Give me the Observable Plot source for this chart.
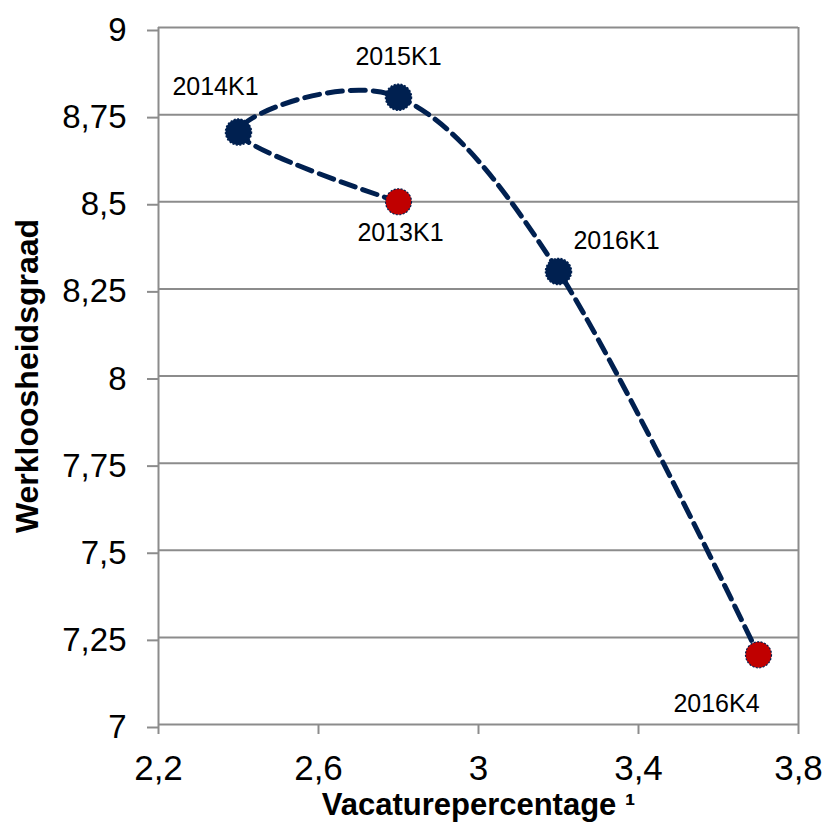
<!DOCTYPE html>
<html>
<head>
<meta charset="utf-8">
<script src="https://cdn.jsdelivr.net/npm/d3@7"></script>
<script src="https://cdn.jsdelivr.net/npm/@observablehq/plot@0.6"></script>
<style>
  html, body { margin: 0; padding: 0; background: #fff; }
</style>
</head>
<body>
<div id="chart"></div>
<script>
// ---- data ----
const periods = ["2013K1", "2014K1", "2015K1", "2016K1", "2016K4"];
const vacature = [2.8, 2.4, 2.8, 3.2, 3.7];          // Vacaturepercentage
const werkloosheid = [8.5, 8.7, 8.8, 8.3, 7.2];     // Werkloosheidsgraad
const highlighted = ["2013K1", "2016K4"];            // start and end of the path
const xTicks = [2.2, 2.6, 3, 3.4, 3.8];
const yTicks = [7, 7.25, 7.5, 7.75, 8, 8.25, 8.5, 8.75, 9];
const xTitle = "Vacaturepercentage \u00B9";
const yTitle = "Werkloosheidsgraad";

// ---- styling / placement (not data) ----
const NAVY = "#002050";
const RED = "#c00000";
const GRID = "#8c8c8c";
const labelPlacement = {
  "2013K1": {dx: 2, dy: 31},
  "2014K1": {dx: -23, dy: -45},
  "2015K1": {dx: 0, dy: -40},
  "2016K1": {dx: 58, dy: -30},
  "2016K4": {dx: -42, dy: 49}
};

const rows = periods.map((p, i) => ({period: p, x: vacature[i], y: werkloosheid[i]}));
const fmt = d => String(d).replace(".", ",");

const labelMarks = rows.map(r => Plot.text([r], {
  x: "x", y: "y", text: "period",
  dx: labelPlacement[r.period].dx, dy: labelPlacement[r.period].dy,
  fontSize: 25, fill: "#000"
}));

const chart = Plot.plot({
  width: 828,
  height: 832,
  marginLeft: 158,
  marginRight: 30,
  marginTop: 27,
  marginBottom: 108,
  style: {fontFamily: "'Liberation Sans', Arial, sans-serif", background: "#fff", color: "#000"},
  x: {domain: [2.2, 3.8]},
  y: {domain: [7, 9]},
  marks: [
    Plot.ruleY(yTicks, {stroke: GRID, strokeWidth: 2}),
    Plot.ruleX([xTicks[0], xTicks[xTicks.length - 1]], {stroke: GRID, strokeWidth: 2}),
    Plot.axisY({ticks: yTicks, tickFormat: fmt, tickSize: 11, tickPadding: 21, fontSize: 33,
      stroke: GRID, strokeWidth: 2, fill: "#000", dy: 3, label: null}),
    Plot.axisX({ticks: xTicks, tickFormat: fmt, tickSize: 10, tickPadding: 21, fontSize: 35,
      stroke: GRID, strokeWidth: 2, fill: "#000", label: null}),
    Plot.line(rows, {x: "x", y: "y", curve: "cardinal", stroke: NAVY, strokeWidth: 5,
      strokeDasharray: "15,8"}),
    Plot.dot(rows.filter(r => !highlighted.includes(r.period)), {x: "x", y: "y", r: 13,
      fill: NAVY, stroke: NAVY, strokeWidth: 1.5, strokeDasharray: "2,1.5"}),
    Plot.dot(rows.filter(r => highlighted.includes(r.period)), {x: "x", y: "y", r: 13,
      fill: RED, stroke: NAVY, strokeWidth: 1.2, strokeDasharray: "2,1.5"}),
    ...labelMarks,
    Plot.text([xTitle], {frameAnchor: "bottom", textAnchor: "middle", dy: 90, fontSize: 31,
      fontWeight: "bold", fill: "#000"}),
    Plot.text([yTitle], {frameAnchor: "left", textAnchor: "middle", rotate: -90, dx: -131,
      fontSize: 32, fontWeight: "bold", fill: "#000"})
  ]
});
document.getElementById("chart").appendChild(chart);
</script>
</body>
</html>
